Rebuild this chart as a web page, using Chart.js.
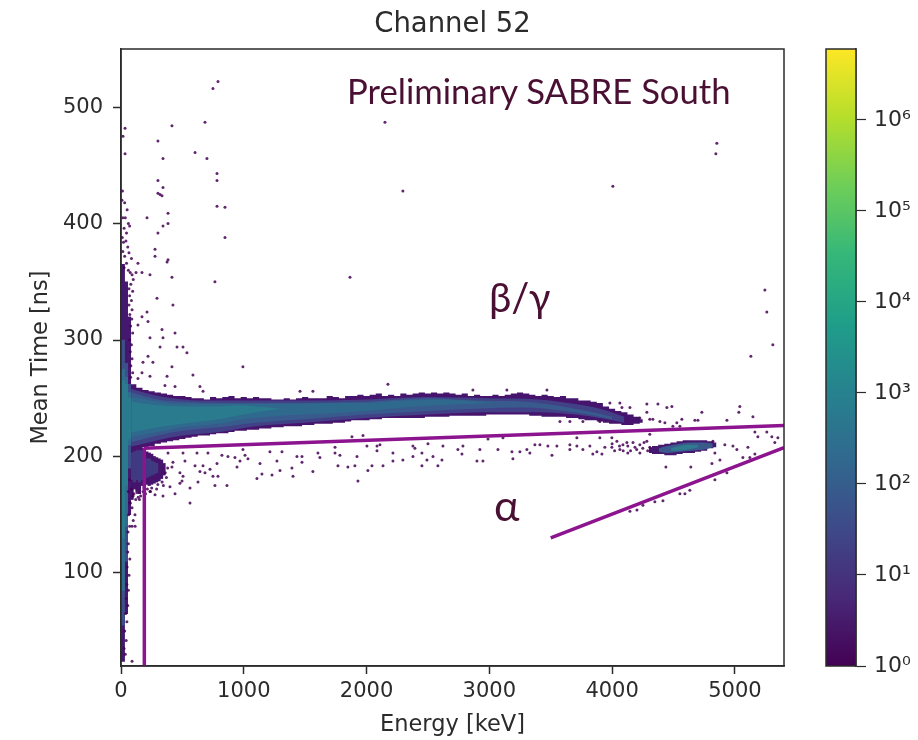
<!DOCTYPE html>
<html>
<head>
<meta charset="utf-8">
<title>Channel 52</title>
<script src="https://cdn.jsdelivr.net/npm/chart.js@4/dist/chart.umd.min.js"></script>
<style>
  body { margin: 0; background: #fff; }
  #wrap { position: relative; width: 918px; height: 740px; overflow: hidden; }
  canvas { position: absolute; top: 0; filter: blur(0.65px); }
  #mainChart { left: 0; }
  #barChart { left: 790px; }
  .note { position: absolute; font-family: Lato, sans-serif; color: #4a1033; white-space: nowrap; line-height: 1; }
</style>
</head>
<body>
<div id="wrap">
  <canvas id="mainChart" width="918" height="740"></canvas>
  <canvas id="barChart" width="128" height="740"></canvas>
  <div class="note" style="left:347px;top:74px;font-size:34.7px">Preliminary SABRE South</div>
  <div class="note" style="left:489px;top:277px;font-size:40px">β/γ</div>
  <div class="note" style="left:494px;top:483px;font-size:43px">α</div>
</div>
<script>
// ----------- Axis values -----------
const energyRange = [0, 5400];
const energyTicks = [0, 1000, 2000, 3000, 4000, 5000];
const timeRange = [20, 550];
const timeTicks = [100, 200, 300, 400, 500];
const colourRange = [1, 6000000];
const colourLabels = { 1: '10⁰', 10: '10¹', 100: '10²', 1000: '10³', 10000: '10⁴', 100000: '10⁵', 1000000: '10⁶' };
const viridis = ['#440154', '#482878', '#3e4989', '#31688e', '#26828e', '#1f9e89', '#35b779', '#6ece58', '#b5de2b', '#fde725'];

// ----------- Beta/gamma band -----------
const bandEnergy = [50,100,150,200,250,300,350,400,450,500,550,600,650,700,750,800,850,900,950,1000,1050,1100,1150,1200,1250,1300,1350,1400,1450,1500,1550,1600,1650,1700,1750,1800,1850,1900,1950,2000,2050,2100,2150,2200,2250,2300,2350,2400,2450,2500,2550,2600,2650,2700,2750,2800,2850,2900,2950,3000,3050,3100,3150,3200,3250,3300,3350,3400,3450,3500,3550,3600,3650,3700,3750,3800,3850,3900,3950,4000,4050,4100,4150,4200,4250];
const bandTop = [264,262,259,257,256,255,254,253,252,252,251,250,250,249,251,250,251,252,250,251,250,251,250,250,249,249,250,249,250,251,250,250,250,252,251,250,252,252,253,252,253,254,252,253,252,254,253,254,255,254,255,254,255,254,253,254,252,253,252,252,253,252,253,254,255,254,253,252,253,252,251,252,250,250,248,248,247,246,243,241,239,238,236,234,232];
const bandLow = [205,205,206,208,209,211,212,213,214,215,216,217,218,218,219,220,220,221,222,222,223,223,224,224,225,225,226,226,226,227,227,228,228,228,229,229,230,231,231,231,232,232,233,233,233,233,233,233,233,234,234,234,234,235,235,235,235,235,235,236,236,236,236,236,236,236,235,235,234,234,234,234,233,233,232,231,231,230,229,228,228,227,227,228,229];

const midEnergy = [50,150,300,500,800,1100,1500,2000,2500,3000,3400,3700,3900,4100];
const midTop = [259,256,252,249,248,248,248,249,251,250,249,245,241,234];
const midLow = [208,210,214,218,221,226,229,233,236,238,238,236,233,229];

const blueEnergy = [50,150,300,500,800,1100,1500,2000,2500,2900,3300,3600,3800,4000];
const blueTop = [256,253,249,247,246,246,246,247,250,248,247,243,239,234];
const blueLow = [212,214,218,222,225,229,232,236,239,241,242,239,236,232];

const coreEnergy = [50,150,300,500,800,1000,1300,1700,2000,2300,2600,2800,3050];
const coreTop = [252,250,247,245,245,245,245,246,246,248,249,248,246];
const coreLow = [216,218,221,225,228,232,235,237,239,242,244,245,246];

const hotEnergy = [50,150,300,500,650,800,950,1100,1300];
const hotTop = [248,246,244,243,243,243,244,243,241];
const hotLow = [220,222,225,228,230,232,235,238,241];

// ----------- Spine at low energy -----------
const spineEnergy = [15, 40, 65];
const spineDark = [[24,365],[65,350],[150,320]];
const spineBlue = [[55,300],[110,280],[190,262]];
const spineCore = [[85,275],[140,268],[210,255]];
const spineHot = [[130,265],[175,262],[215,250]];

// ----------- Blob below the band -----------
const blobEnergy = [70,90,110,130,150,170,190,210,230,250,270,290,310,330,350];
const blobDark = [[165,206],[163,206],[172,206],[170,206],[168,207],[175,207],[172,204],[176,204],[175,203],[176,202],[177,200],[178,199],[179,198],[181,197],[184,194]];
const blobBlue = [[185,200],[180,203],[178,204],[180,205],[178,205],[180,205],[180,200],[182,198],[183,198],[184,196],[185,195],[186,194]];
const blobBlueEnergy = [70,90,110,130,150,170,190,210,230,250,270,290];

// ----------- Alpha blob -----------
const alphaEnergy = [4300,4350,4400,4450,4500,4550,4600,4650,4700,4750,4800,4850];
const alphaTop = [208,209,210,211,212,213,214,214,214,214,213,212];
const alphaLow = [203,202,202,201,201,202,203,203,204,205,207,208];
const alphaMidEnergy = [4380,4450,4550,4650,4750,4820];
const alphaMidTop = [207,209,211,212,212,211];
const alphaMidLow = [204,203,204,205,206,208];
const alphaCoreEnergy = [4480,4550,4620,4700];
const alphaCoreTop = [207,209,210,210];
const alphaCoreLow = [205,205,206,208];

// ----------- Selection lines -----------
const cutVerticalE = [190, 190];
const cutVerticalT = [20, 207];
const cutUpperE = [185, 5400];
const cutUpperT = [207, 226.5];
const cutAlphaE = [3500, 5400];
const cutAlphaT = [130, 207.5];

// ----------- Single events -----------
const strayEnergy = [790,749,684,415,33,16,301,603,33,342,700,782,782,301,342,301,318,334,782,847,383,212,383,342,301,847,277,277,383,375,138,765,415,236,171,122,293,423,212,171,220,138,334,440,236,342,456,505,318,537,220,
  2150,2296,4006,4853,4845,1865,5244,5260,5309,5130,
  179,260,415,993,586,375,171,236,138,440,358,643,668,2174,1458,1563,
  383,505,619,708,822,871,928,993,1010,1034,1213,1311,1433,1474,1604,1620,1743,1743,1783,1922,2003,2085,2109,2085,2215,2378,2394,2378,1881,1971,
  423,521,415,480,603,668,782,725,643,684,505,749,790,627,497,480,399,440,342,562,765,863,562,945,969,1132,1270,1148,1107,1230,1295,1392,1401,1474,1563,1767,1848,1905,2011,1930,2044,2134,2215,2296,
  98,73,130,114,90,57,236,277,
  2451,2492,2541,2581,2614,2622,2451,2500,2744,2777,2785,2899,2948,2923,3070,2989,3111,3184,3192,3249,3306,3330,3371,3412,3510,3477,3550,3656,3656,3713,3762,3819,3713,3876,3843,3917,3900,3941,3998,4039,3998,4063,4088,4128,4128,4186,4226,4226,4283,4307,4307,
  4150,4170,4200,4250,4290,4260,4120,4090,4060,4000,4020,
  4821,4837,4878,4918,4984,5016,5106,5163,5122,5065,4935,4837,4813,5163,5260,5301,5350,5325,5187,
  4438,4641,4633,4593,4552,4414,4348,4251,4202,4145,
  4283,4373,4487,4446,4731,5040,5032,5147,4935,4226,4283,4307,4332,4389,4430,4527,4568,4674,4699,4495,4552,4063,4080,4145,3982,3469,2866,3143,3575,3656,3762,3900,
  12,8,30,15,50,35,60,25,45,10,20,70,40,55,15,30,65,85,45,25,60,75,90,100,80,65,95,70,85,65,90,72,88,78,95,70,85,75,90,80,95,78,
  70,85,60,75,90,62,100,70,115,60,55,72,50,65,48,60,42,55,38,48,30,42,25,35,90,
  105,140,160,120,180,215,250,300,335,360,380,290,345,370,240,200,150];
const strayTime = [522,516,487,484,482,475,471,461,460,456,456,443,437,437,431,426,425,424,415,414,409,405,400,398,392,388,378,372,369,367,366,350,354,356,358,358,336,330,324,320,316,313,309,306,302,302,294,294,294,289,286,
  487,428,432,469,460,354,343,324,296,286,
  281,281,277,277,270,269,272,269,267,260,261,260,256,262,256,256,
  203,203,203,203,201,200,199,206,201,198,204,204,200,200,203,199,208,203,201,200,209,209,210,205,203,209,207,200,217,218,
  195,196,191,186,192,192,194,189,187,186,183,183,183,178,179,177,174,168,166,173,175,175,160,191,196,194,196,185,181,184,188,190,183,195,187,192,191,192,188,179,192,192,196,197,
  166,160,169,150,140,135,170,167,
  192,197,200,192,197,209,203,211,206,202,209,196,196,206,206,215,216,204,198,204,206,203,210,210,201,209,209,210,206,209,206,209,216,204,202,202,216,208,216,213,208,206,210,209,203,208,210,203,213,208,219,
  205,212,206,207,205,212,212,205,209,211,205,
  213,203,197,210,209,206,208,202,199,199,186,180,194,221,221,217,216,212,217,
  191,191,171,168,168,162,161,158,154,153,
  245,245,243,242,238,243,238,234,231,233,238,232,232,230,229,229,232,231,231,226,226,246,242,242,246,257,257,257,230,230,230,230,
  428,420,418,405,412,405,400,396,392,388,384,398,385,380,376,372,375,370,366,362,360,358,356,352,348,344,342,338,334,330,326,322,318,312,306,300,296,290,284,278,272,268,
  180,172,170,160,156,150,145,140,140,125,118,112,105,98,90,85,78,72,65,58,50,42,35,30,24,
  168,165,166,163,170,172,173,176,178,186,190,172,175,182,170,168,163];

// ----------- Build datasets -----------
const pairs = (xs, ys) => xs.map((x, i) => ({ x, y: ys[i] }));
const datasets = [];

const addLine = (xs, ys) => {
  datasets.push({
    type: 'line', data: pairs(xs, ys), borderColor: '#8c148e', borderWidth: 3.5,
    pointRadius: 0, fill: false, order: 0
  });
};

const addArea = (xs, top, low, colour, order, stepped) => {
  const lineBits = { type: 'line', borderWidth: 0, pointRadius: 0, order, stepped: stepped ? 'middle' : false };
  datasets.push({ ...lineBits, data: pairs(xs, top), fill: { target: datasets.length + 1 }, backgroundColor: colour, cubicInterpolationMode: 'monotone' });
  datasets.push({ ...lineBits, data: pairs(xs, low), fill: false, cubicInterpolationMode: 'monotone' });
};

const addBars = (xs, ranges, colour, order, thickness) => {
  datasets.push({
    type: 'bar', data: pairs(xs, ranges), backgroundColor: colour,
    barThickness: thickness, grouped: false, order
  });
};

addLine(cutVerticalE, cutVerticalT);
addLine(cutUpperE, cutUpperT);
addLine(cutAlphaE, cutAlphaT);

datasets.push({
  type: 'scatter', data: pairs(strayEnergy, strayTime), showLine: false,
  backgroundColor: 'rgba(68,1,84,0.85)', borderWidth: 0, pointRadius: 1.5, pointStyle: 'circle', order: 1
});

addArea(alphaCoreEnergy, alphaCoreTop, alphaCoreLow, '#2f7a8e', 2);
addArea(alphaMidEnergy, alphaMidTop, alphaMidLow, '#3a5a8c', 3);
addArea(alphaEnergy, alphaTop, alphaLow, '#45186f', 4, true);

addBars(spineEnergy, spineHot, '#2a7b8e', 5, 3.5);
addBars(spineEnergy, spineCore, '#2f6c8e', 6, 3.5);
addBars(spineEnergy, spineBlue, '#3c4f8a', 7, 3.5);
addBars(spineEnergy, spineDark, '#45186f', 8, 3.5);

addArea(hotEnergy, hotTop, hotLow, '#2a7b8e', 9);
addArea(coreEnergy, coreTop, coreLow, '#30698e', 10);
addArea(blueEnergy, blueTop, blueLow, '#385a8c', 11);
addArea(midEnergy, midTop, midLow, '#424086', 12);
addArea(bandEnergy, bandTop, bandLow, '#46146c', 13, true);

addBars(blobBlueEnergy, blobBlue, '#403a82', 14, 2.6);
addBars(blobEnergy, blobDark, '#46146c', 15, 2.6);

// ----------- Frame round the axes -----------
const framePlugin = {
  id: 'frame',
  afterDraw(chart) {
    const { ctx, chartArea: a } = chart;
    ctx.save();
    ctx.strokeStyle = '#2b2b2b';
    ctx.lineWidth = 1.5;
    ctx.strokeRect(a.left, a.top, a.right - a.left, a.bottom - a.top);
    ctx.restore();
  }
};

const tickFont = { family: '"DejaVu Sans"', size: 21 };
const axisFont = { family: '"DejaVu Sans"', size: 22.5 };
const inkColour = '#2b2b2b';
const setTicks = values => scale => { scale.ticks = values.map(value => ({ value })); };

// ----------- Main chart -----------
new Chart(document.getElementById('mainChart'), {
  type: 'line',
  data: { datasets },
  plugins: [framePlugin],
  options: {
    responsive: false,
    animation: false,
    layout: { padding: { left: 28, right: 134, top: 0, bottom: 1 } },
    plugins: { legend: { display: false }, tooltip: { enabled: false } },
    scales: {
      x: {
        type: 'linear', min: energyRange[0], max: energyRange[1], offset: false,
        afterFit: s => { s.height = 73; },
        afterBuildTicks: setTicks(energyTicks),
        title: { display: true, text: 'Energy [keV]', color: inkColour, font: axisFont, padding: 0 },
        ticks: { autoSkip: false, color: inkColour, font: tickFont, maxRotation: 0, padding: 5, callback: v => String(v) },
        grid: { offset: false, drawOnChartArea: false, tickLength: 8, tickColor: inkColour, tickWidth: 1.5 },
        border: { color: inkColour, width: 1.5 }
      },
      titleAxis: {
        type: 'linear', axis: 'x', position: 'top', min: energyRange[0], max: energyRange[1],
        afterFit: s => { s.height = 49; },
        title: {
          display: true, text: 'Channel 52', color: inkColour,
          font: { family: '"DejaVu Sans"', size: 27.5 }, padding: { top: 8, bottom: 0 }
        },
        ticks: { display: false },
        grid: { display: false },
        border: { display: false }
      },
      y: {
        type: 'linear', min: timeRange[0], max: timeRange[1],
        afterFit: s => { s.width = 93; },
        afterBuildTicks: setTicks(timeTicks),
        title: { display: true, text: 'Mean Time [ns]', color: inkColour, font: axisFont, padding: 0 },
        ticks: { autoSkip: false, color: inkColour, font: tickFont, padding: 10 },
        grid: { drawOnChartArea: false, tickLength: 8, tickColor: inkColour, tickWidth: 1.5 },
        border: { color: inkColour, width: 1.5 }
      }
    }
  }
});

// ----------- Colour bar -----------
const isDecade = v => Math.abs(Math.log10(v) - Math.round(Math.log10(v))) < 1e-6;

const colourBarFill = (context) => {
  const { ctx, chartArea } = context.chart;
  if (!chartArea) return viridis[0];
  const gradient = ctx.createLinearGradient(0, chartArea.bottom, 0, chartArea.top);
  viridis.forEach((c, i) => gradient.addColorStop(i / (viridis.length - 1), c));
  return gradient;
};

new Chart(document.getElementById('barChart'), {
  type: 'bar',
  data: {
    labels: [''],
    datasets: [{ data: [colourRange], backgroundColor: colourBarFill, barPercentage: 1, categoryPercentage: 1 }]
  },
  plugins: [framePlugin],
  options: {
    responsive: false,
    animation: false,
    layout: { padding: { left: 36, right: 0, top: 49, bottom: 74 } },
    plugins: { legend: { display: false }, tooltip: { enabled: false } },
    scales: {
      x: { display: false },
      y: {
        type: 'logarithmic', position: 'right', min: colourRange[0], max: colourRange[1],
        afterFit: s => { s.width = 62; },
        afterBuildTicks: s => { s.ticks = s.ticks.filter(t => isDecade(t.value)); },
        ticks: {
          autoSkip: false, color: inkColour, font: { family: '"DejaVu Sans"', size: 22 }, padding: 8,
          callback: v => colourLabels[v] || ''
        },
        grid: { drawOnChartArea: false, tickLength: 10, tickColor: inkColour, tickWidth: 1.2 },
        border: { color: inkColour, width: 1.5 }
      },
      minorTicks: {
        type: 'logarithmic', position: 'right', min: colourRange[0], max: colourRange[1],
        afterFit: s => { s.width = 0; },
        afterBuildTicks: s => { s.ticks = s.ticks.filter(t => !isDecade(t.value)); },
        ticks: { autoSkip: false, display: false },
        grid: { drawOnChartArea: false, tickLength: 6, tickColor: inkColour, tickWidth: 1 },
        border: { display: false }
      }
    }
  }
});
</script>
</body>
</html>
